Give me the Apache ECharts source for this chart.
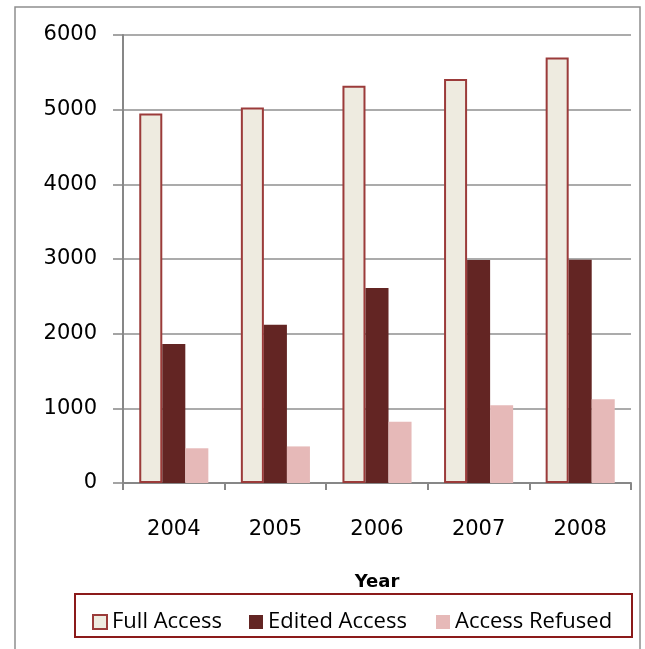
<!DOCTYPE html>
<html>
<head>
<meta charset="utf-8">
<style>
  html, body { margin: 0; padding: 0; background: #fff; }
  #chart { width: 645px; height: 649px; }
</style>
<script src="https://cdn.jsdelivr.net/npm/echarts@6/dist/echarts.min.js"></script>
</head>
<body>
<div id="chart"></div>
<script>
// Access requests per year, by outcome
const years = ['2004', '2005', '2006', '2007', '2008'];
const fullAccess = [4950, 5030, 5320, 5410, 5700];
const editedAccess = [1860, 2120, 2610, 2985, 2990];
const accessRefused = [465, 490, 820, 1040, 1120];
const yTicks = { min: 0, max: 6000, interval: 1000 };

const seriesNames = ['Full Access', 'Edited Access', 'Access Refused'];
const fillColors = ['#EEEBE0', '#632523', '#E6B9B8'];
const fullBorder = '#9B3B3A';

const chart = echarts.init(document.getElementById('chart'), null, { renderer: 'canvas' });

const axisGray = '#878787';
const labelFont = 'DejaVu Sans';
const legendFont = 'Open Sans';

function legendAt(left, idx) {
  const item = { name: seriesNames[idx] };
  if (idx === 0) item.itemStyle = { color: fillColors[0], borderColor: fullBorder, borderWidth: 2 };
  return {
    left: left,
    top: 611,
    padding: 0,
    icon: 'rect',
    itemWidth: 14,
    itemHeight: 14,
    data: [item],
    textStyle: { fontFamily: legendFont, fontSize: 22, color: '#000' }
  };
}

chart.setOption({
  animation: false,
  backgroundColor: '#fff',
  grid: { left: 123, right: 14, top: 35, bottom: 166, containLabel: false },
  legend: [legendAt(92, 0), legendAt(249, 1), legendAt(436, 2)],
  xAxis: {
    type: 'category',
    data: years,
    name: 'Year',
    nameLocation: 'middle',
    nameGap: 90,
    nameTextStyle: { fontFamily: labelFont, fontSize: 18, fontWeight: 'bold', color: '#000' },
    axisLine: { lineStyle: { color: axisGray, width: 2 } },
    axisTick: { show: true, length: 7, lineStyle: { color: axisGray, width: 2 } },
    axisLabel: { margin: 36, fontFamily: labelFont, fontSize: 21, color: '#000' },
    splitLine: { show: false }
  },
  yAxis: {
    type: 'value',
    min: yTicks.min,
    max: yTicks.max,
    interval: yTicks.interval,
    axisLine: { show: true, lineStyle: { color: axisGray, width: 2 } },
    axisTick: { show: true, length: 10, lineStyle: { color: axisGray, width: 1.5 } },
    axisLabel: { margin: 26, fontFamily: labelFont, fontSize: 21, color: '#000', formatter: v => String(v) },
    splitLine: { show: true, lineStyle: { color: '#8f8f8f', width: 1.5 } }
  },
  series: [
    {
      name: seriesNames[0], type: 'bar', data: fullAccess,
      barGap: '0%', barCategoryGap: '32%',
      itemStyle: { color: fillColors[0], borderColor: fullBorder, borderWidth: 2 }
    },
    {
      name: seriesNames[1], type: 'bar', data: editedAccess,
      barGap: '0%', barCategoryGap: '32%',
      itemStyle: { color: fillColors[1] }
    },
    {
      name: seriesNames[2], type: 'bar', data: accessRefused,
      barGap: '0%', barCategoryGap: '32%',
      itemStyle: { color: fillColors[2] }
    }
  ],
  graphic: [
    {
      type: 'rect', silent: true, z: -1,
      shape: { x: 15, y: 7, width: 625, height: 650 },
      style: { fill: 'none', stroke: '#8e8e8e', lineWidth: 1.5 }
    },
    {
      type: 'rect', silent: true,
      shape: { x: 75, y: 594, width: 557, height: 43 },
      style: { fill: 'none', stroke: '#8B1A1A', lineWidth: 2 }
    }
  ]
});
</script>
</body>
</html>
